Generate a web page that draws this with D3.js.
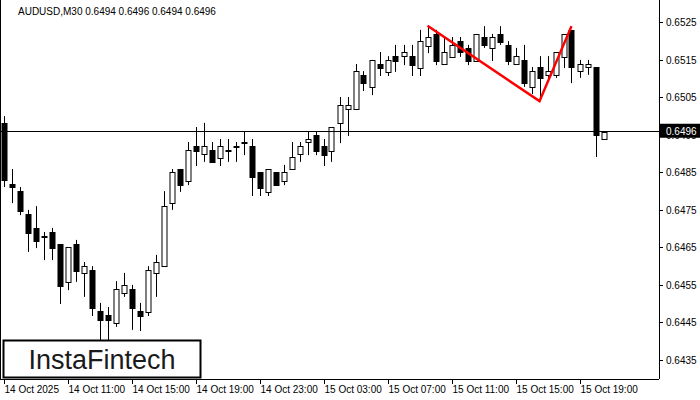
<!DOCTYPE html>
<html>
<head>
<meta charset="utf-8">
<script src="https://cdn.jsdelivr.net/npm/d3@7"></script>
<style>
body { margin: 0; background: #fff; }
text { font-family: "Liberation Sans", Arial, sans-serif; }
</style>
</head>
<body>
<div id="chart"></div>
<script>
// candle data, AUDUSD M30
var opens = [0.64981,0.64818,0.64799,0.64738,0.64701,0.64679,0.6469,0.64658,0.64557,0.64658,
  0.64581,0.64589,0.64479,0.64469,0.64447,0.64527,0.64538,0.64479,0.64477,0.64581,
  0.64599,0.64767,0.64858,0.64826,0.64919,0.64898,0.64909,0.64887,0.64909,0.64919,
  0.6493,0.64919,0.6485,0.64797,0.6485,0.64826,0.64858,0.64898,0.6493,0.64949,
  0.64919,0.64906,0.64981,0.65018,0.65018,0.65109,0.65077,0.65138,0.65117,0.65159,
  0.65159,0.65159,0.65127,0.65186,0.65218,0.65138,0.65157,0.65199,0.65181,0.65146,
  0.6521,0.65181,0.65218,0.65189,0.65138,0.65149,0.65077,0.6513,0.65109,0.65109,
  0.65157,0.65229,0.65119,0.6513,0.6513,0.64938];
var highs = [0.64999,0.64858,0.6481,0.64749,0.64759,0.6469,0.64701,0.64658,0.6465,0.64669,
  0.6461,0.64599,0.64501,0.6449,0.64559,0.64581,0.64549,0.64501,0.64599,0.64629,
  0.64799,0.64858,0.64858,0.6493,0.6497,0.64981,0.6493,0.64938,0.64938,0.6493,
  0.64959,0.64938,0.6485,0.64858,0.6485,0.64869,0.6493,0.6493,0.64959,0.64959,
  0.64938,0.6497,0.6505,0.6505,0.65138,0.65119,0.65149,0.6517,0.65159,0.65189,
  0.65189,0.65189,0.65229,0.65239,0.65229,0.6521,0.6521,0.6521,0.65189,0.65218,
  0.65239,0.65218,0.65239,0.65199,0.65181,0.65189,0.6513,0.65159,0.65159,0.6517,
  0.65218,0.65229,0.65149,0.65149,0.6513,0.64957];
var lows = [0.6481,0.64767,0.64735,0.64637,0.64647,0.64615,0.64615,0.64498,0.64535,0.64557,
  0.64517,0.64466,0.64397,0.64402,0.64437,0.64517,0.64429,0.64426,0.64466,0.64517,
  0.64599,0.64749,0.64797,0.64815,0.64866,0.64877,0.64877,0.64866,0.64877,0.64877,
  0.64895,0.64786,0.64786,0.64786,0.64815,0.64815,0.64858,0.64877,0.64895,0.64895,
  0.64866,0.64877,0.64927,0.64946,0.65018,0.65066,0.65055,0.65106,0.65106,0.65117,
  0.65135,0.65106,0.65106,0.65167,0.65135,0.65138,0.65157,0.65157,0.65135,0.65146,
  0.65181,0.65146,0.65189,0.65135,0.65138,0.65077,0.65058,0.65039,0.65101,0.65101,
  0.65127,0.65087,0.65101,0.65109,0.6489,0.64938];
var closes = [0.64829,0.6481,0.64746,0.64687,0.64666,0.64677,0.64647,0.64546,0.6465,0.64586,
  0.64599,0.64487,0.64455,0.64455,0.64538,0.64549,0.64487,0.64466,0.64589,0.6461,
  0.64759,0.6485,0.64815,0.64909,0.64906,0.64919,0.64877,0.64919,0.64906,0.64917,
  0.64927,0.64837,0.64807,0.64858,0.64815,0.6485,0.6489,0.64919,0.64938,0.64906,
  0.64895,0.6497,0.65029,0.65029,0.65119,0.65087,0.65149,0.65127,0.65149,0.65146,
  0.6517,0.65135,0.65199,0.6521,0.65146,0.6517,0.65189,0.6517,0.65146,0.65218,
  0.65189,0.6521,0.65197,0.65146,0.65159,0.65087,0.65119,0.65101,0.65119,0.6517,
  0.65218,0.6513,0.65138,0.65138,0.64949,0.64957];

var timeLabels = ["14 Oct 2025","14 Oct 11:00","14 Oct 15:00","14 Oct 19:00","14 Oct 23:00",
  "15 Oct 03:00","15 Oct 07:00","15 Oct 11:00","15 Oct 15:00","15 Oct 19:00"];
var priceTicks = [0.6525,0.6515,0.6505,0.6495,0.6485,0.6475,0.6465,0.6455,0.6445,0.6435];
var currentPrice = 0.6496;
// double top pattern: [candle index, price]
var pattern = [[53,0.6524],[67,0.65039],[71,0.65239]];

var W = 700, H = 400, plotRight = 659, plotBottom = 379;

var svg = d3.select("#chart").append("svg").attr("width",W).attr("height",H);

var x = d3.scaleLinear().domain([0,75]).range([3.5,603.5]);
var y = d3.scaleLinear().domain([0.6525,0.6435]).range([22,359.5]);

// frame
svg.append("line").attr("x1",0.5).attr("x2",0.5).attr("y1",0).attr("y2",plotBottom).attr("stroke","#000");
svg.append("line").attr("x1",0).attr("x2",plotRight).attr("y1",plotBottom+0.5).attr("y2",plotBottom+0.5).attr("stroke","#000");
svg.append("line").attr("x1",plotRight+0.5).attr("x2",plotRight+0.5).attr("y1",0).attr("y2",plotBottom).attr("stroke","#000");

// price axis
var ya = svg.append("g").selectAll("g").data(priceTicks).enter().append("g");
ya.append("line").attr("x1",plotRight).attr("x2",plotRight+4)
  .attr("y1",function(d){return Math.round(y(d))+0.5;}).attr("y2",function(d){return Math.round(y(d))+0.5;})
  .attr("stroke","#000");
ya.append("text").attr("x",666).attr("y",function(d){return y(d)+4;})
  .attr("font-size",10).attr("fill","#000").text(function(d){return d.toFixed(4);});

// time axis
var xa = svg.append("g").selectAll("g").data(timeLabels).enter().append("g");
xa.append("line").attr("x1",function(d,i){return Math.round(x(i*8))+0.5;}).attr("x2",function(d,i){return Math.round(x(i*8))+0.5;})
  .attr("y1",plotBottom).attr("y2",plotBottom+5).attr("stroke","#000");
xa.append("text").attr("x",function(d,i){return x(i*8)+1;}).attr("y",393)
  .attr("font-size",10).attr("fill","#000").text(function(d){return d;});

// candles
var idx = d3.range(opens.length);
var c = svg.append("g").selectAll("g").data(idx).enter().append("g");
c.append("line")
  .attr("x1",function(i){return Math.round(x(i))+0.5;}).attr("x2",function(i){return Math.round(x(i))+0.5;})
  .attr("y1",function(i){return y(highs[i]);}).attr("y2",function(i){return y(lows[i]);})
  .attr("stroke","#000");
c.append("rect")
  .attr("x",function(i){return Math.round(x(i))-2;})
  .attr("width",5)
  .attr("y",function(i){return Math.round(y(Math.max(opens[i],closes[i])))+0.5;})
  .attr("height",function(i){return Math.max(1,Math.round(Math.abs(y(opens[i])-y(closes[i]))));})
  .attr("fill",function(i){return closes[i]<opens[i]?"#000":"#fff";})
  .attr("stroke","#000");

// current price line
svg.append("line").attr("x1",0).attr("x2",plotRight).attr("y1",Math.round(y(currentPrice))+0.5).attr("y2",Math.round(y(currentPrice))+0.5)
  .attr("stroke","#000");
svg.append("rect").attr("x",plotRight+1).attr("y",y(currentPrice)-7).attr("width",40).attr("height",14).attr("fill","#000");
svg.append("text").attr("x",666).attr("y",y(currentPrice)+4).attr("font-size",10).attr("fill","#fff").text(currentPrice.toFixed(4));

// pattern
svg.append("path").datum(pattern)
  .attr("d",d3.line().x(function(d){return x(d[0]);}).y(function(d){return y(d[1]);}))
  .attr("fill","none").attr("stroke","#f00").attr("stroke-width",2.5);

// title
svg.append("text").attr("x",18).attr("y",15).attr("font-size",10).attr("fill","#000")
  .text("AUDUSD,M30  0.6494 0.6496 0.6494 0.6496");

// logo
svg.append("rect").attr("x",3.5).attr("y",340.5).attr("width",197).attr("height",37)
  .attr("fill","#fff").attr("stroke","#000").attr("stroke-width",2);
svg.append("text").attr("x",102).attr("y",369).attr("text-anchor","middle")
  .attr("font-family","Lato").attr("font-size",27).attr("fill","#1a1a1a").text("InstaFintech");
</script>
</body>
</html>
